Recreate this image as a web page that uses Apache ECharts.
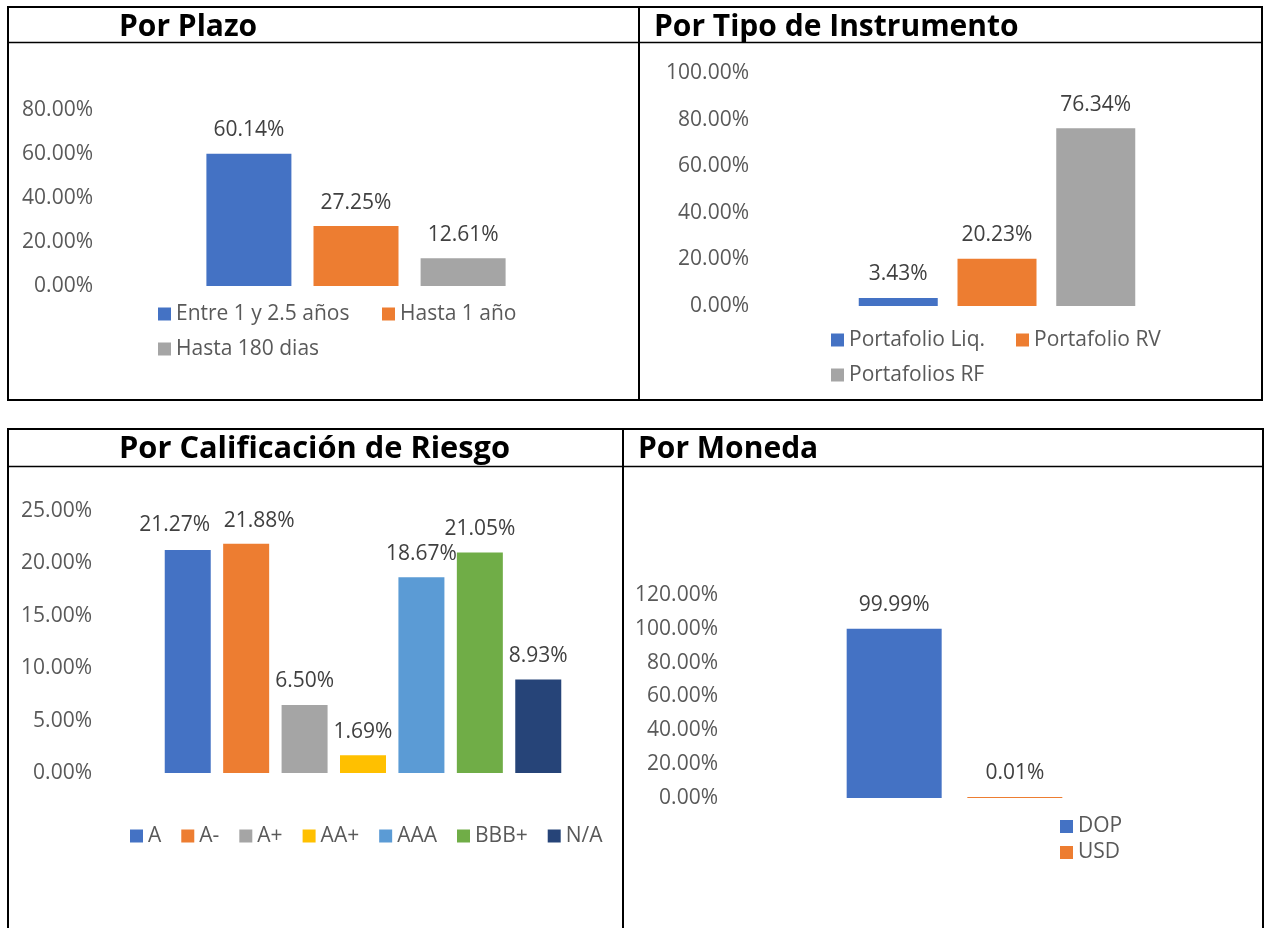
<!DOCTYPE html>
<html>
<head>
<meta charset="utf-8">
<script src="https://cdn.jsdelivr.net/npm/echarts@6/dist/echarts.min.js"></script>
<style>
  html, body { margin: 0; padding: 0; background: #ffffff; }
  #chart { width: 1268px; height: 928px; }
</style>
</head>
<body>
<div id="chart"></div>
<script>
// ---- Data ----
const panelTitles = ['Por Plazo', 'Por Tipo de Instrumento', 'Por Calificación de Riesgo', 'Por Moneda'];

const plazoCats = ['Entre 1 y 2.5 años', 'Hasta 1 año', 'Hasta 180 dias'];
const plazoVals = [60.14, 27.25, 12.61];
const plazoTicks = [0, 20, 40, 60, 80];

const tipoCats = ['Portafolio Liq.', 'Portafolio RV', 'Portafolios RF'];
const tipoVals = [3.43, 20.23, 76.34];
const tipoTicks = [0, 20, 40, 60, 80, 100];

const riesgoCats = ['A', 'A-', 'A+', 'AA+', 'AAA', 'BBB+', 'N/A'];
const riesgoVals = [21.27, 21.88, 6.50, 1.69, 18.67, 21.05, 8.93];
const riesgoTicks = [0, 5, 10, 15, 20, 25];

const monedaCats = ['DOP', 'USD'];
const monedaVals = [99.99, 0.01];
const monedaTicks = [0, 20, 40, 60, 80, 100, 120];

// ---- Styles ----
const BLUE = '#4472C4', ORANGE = '#ED7D31', GRAY = '#A5A5A5', GOLD = '#FFC000',
      LBLUE = '#5B9BD5', GREEN = '#70AD47', NAVY = '#264478';
const FONT = 'Open Sans';
const riesgoLabelShift = { 'A': [-13, -2], 'A-': [13, 1] };

function pct(v) { return v.toFixed(2) + '%'; }

function panelSeries(cats, vals, colors, idx, barWidth, barGap, shifts) {
  return cats.map((c, i) => ({
    type: 'bar',
    name: c,
    xAxisIndex: idx,
    yAxisIndex: idx,
    data: [vals[i]],
    barWidth: barWidth,
    barGap: barGap,
    barMinHeight: 1,
    itemStyle: { color: colors[i] },
    label: {
      show: true,
      position: 'top',
      distance: 13,
      formatter: p => pct(p.value),
      color: '#404040',
      fontSize: 21,
      fontFamily: FONT,
      offset: (shifts && shifts[c]) || [0, 0]
    }
  }));
}

function xAx(idx) {
  return {
    type: 'category', gridIndex: idx, data: [''],
    axisLine: { show: false }, axisTick: { show: false }, axisLabel: { show: false },
    splitLine: { show: false }
  };
}
function yAx(idx, ticks) {
  return {
    type: 'value', gridIndex: idx,
    min: ticks[0], max: ticks[ticks.length - 1], interval: ticks[1] - ticks[0],
    axisLine: { show: false }, axisTick: { show: false }, splitLine: { show: false },
    axisLabel: { formatter: v => pct(v), color: '#595959', fontSize: 21, fontFamily: FONT, margin: 7, padding: [4, 0, 0, 0] }
  };
}

const legendText = { color: '#595959', fontSize: 21, fontFamily: FONT };
function oneLegend(name, left, top) {
  return {
    data: [name], left: left, top: top, orient: 'horizontal',
    itemWidth: 13, itemHeight: 13, icon: 'rect', padding: 0,
    textStyle: legendText
  };
}

function titleAt(text, left, top, size) {
  return {
    text: text, left: left, top: top, padding: 0,
    textStyle: { fontFamily: FONT, fontWeight: 'bold', fontSize: size || 30, color: '#000000' }
  };
}

function hline(x1, x2, y, w) {
  return { type: 'line', shape: { x1: x1, y1: y, x2: x2, y2: y }, style: { stroke: '#000', lineWidth: w || 2 }, silent: true };
}
function vline(x, y1, y2, w) {
  return { type: 'line', shape: { x1: x, y1: y1, x2: x, y2: y2 }, style: { stroke: '#000', lineWidth: w || 2 }, silent: true };
}

const option = {
  animation: false,
  backgroundColor: '#ffffff',
  title: [
    titleAt(panelTitles[0], 119, 12),
    titleAt(panelTitles[1], 654, 12),
    titleAt(panelTitles[2], 119, 434, 30.8),
    titleAt(panelTitles[3], 638, 434)
  ],
  grid: [
    { left: 100, top: 110, width: 512, height: 176 },
    { left: 756, top: 73, width: 482, height: 233 },
    { left: 99, top: 511, width: 528, height: 262 },
    { left: 725, top: 595, width: 459, height: 203 }
  ],
  xAxis: [xAx(0), xAx(1), xAx(2), xAx(3)],
  yAxis: [yAx(0, plazoTicks), yAx(1, tipoTicks), yAx(2, riesgoTicks), yAx(3, monedaTicks)],
  legend: [
    oneLegend(plazoCats[0], 158, 303.5),
    oneLegend(plazoCats[1], 382, 303.5),
    oneLegend(plazoCats[2], 158, 338.5),
    oneLegend(tipoCats[0], 831, 329.5),
    oneLegend(tipoCats[1], 1016, 329.5),
    oneLegend(tipoCats[2], 831, 364.5),
    {
      data: riesgoCats, left: 130, top: 825.5, orient: 'horizontal', itemGap: 20,
      itemWidth: 13, itemHeight: 13, icon: 'rect', padding: 0, textStyle: legendText
    },
    {
      data: monedaCats, left: 1060, top: 816, orient: 'vertical', itemGap: 5,
      itemWidth: 13, itemHeight: 13, icon: 'rect', padding: 0, textStyle: legendText
    }
  ],
  series: [].concat(
    panelSeries(plazoCats, plazoVals, [BLUE, ORANGE, GRAY], 0, 85, '26%'),
    panelSeries(tipoCats, tipoVals, [BLUE, ORANGE, GRAY], 1, 79, '25%'),
    panelSeries(riesgoCats, riesgoVals, [BLUE, ORANGE, GRAY, GOLD, LBLUE, GREEN, NAVY], 2, 46, '27%', riesgoLabelShift),
    panelSeries(monedaCats, monedaVals, [BLUE, ORANGE], 3, 95, '27%')
  ),
  graphic: [
    // top table
    { type: 'rect', shape: { x: 8, y: 7, width: 1254, height: 393 }, style: { fill: 'none', stroke: '#000', lineWidth: 2 }, silent: true },
    hline(8, 1262, 42.5, 1.5),
    vline(639, 7, 400, 2),
    // bottom table
    hline(7, 1264, 429, 2),
    hline(8, 1263, 466.5, 1.5),
    vline(8, 428, 928, 2),
    vline(1263, 428, 928, 2),
    vline(623, 428, 928, 2)
  ]
};

const chart = echarts.init(document.getElementById('chart'), null, { renderer: 'canvas' });
chart.setOption(option);
</script>
</body>
</html>
